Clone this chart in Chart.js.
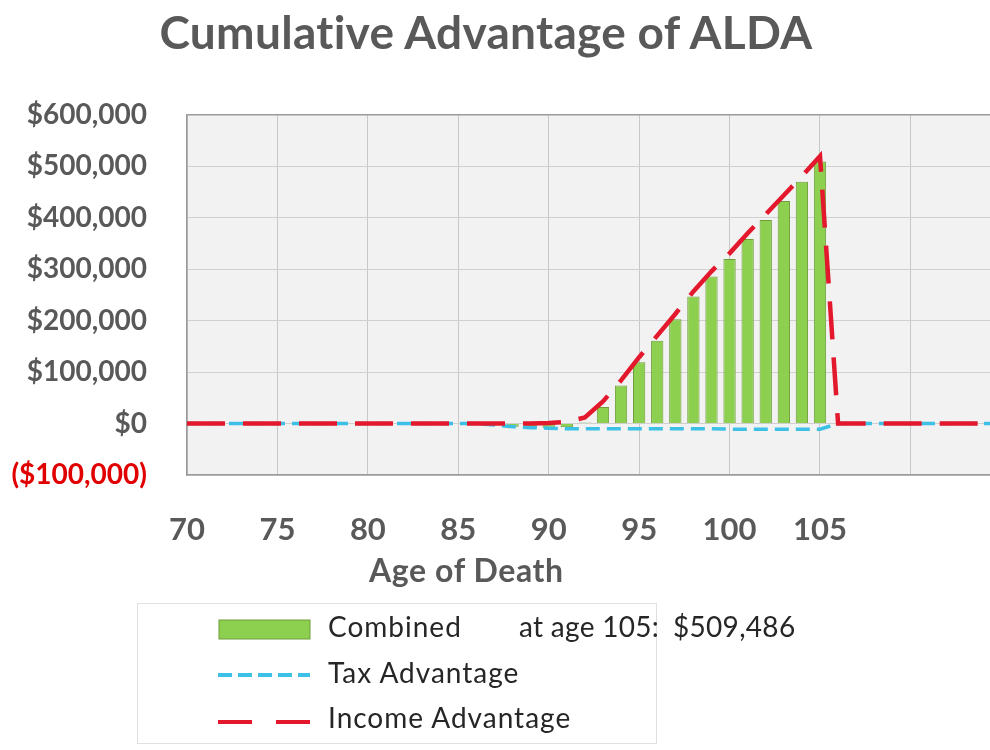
<!DOCTYPE html>
<html>
<head>
<meta charset="utf-8">
<script src="https://cdn.jsdelivr.net/npm/chart.js@4.4.1/dist/chart.umd.min.js"></script>
<style>
  html, body { margin: 0; padding: 0; background: #fff; overflow: hidden; }
  #wrap { position: relative; width: 990px; height: 750px; font-family: Lato, "Open Sans", sans-serif; }
  #chartBox { position: absolute; left: 0; top: 0; width: 990px; height: 750px; }
  #title { position: absolute; left: 0; width: 972px; top: 4px; text-align: center;
           font-size: 46px; font-weight: bold; color: #595959; letter-spacing: 0.3px; }
  #xTitle { position: absolute; left: 369px; top: 550px; font-size: 32px; font-weight: bold; color: #595959; letter-spacing: 0.6px; }
  #legend { position: absolute; left: 137px; top: 603px; width: 520px; height: 141px;
            border: 1px solid #e0e0e0; box-sizing: border-box; }
  .item { position: absolute; left: 190px; font-size: 28px; color: #262626; white-space: nowrap; letter-spacing: 1px; }
  .swatch { position: absolute; left: 80px; }
</style>
</head>
<body>
<div id="wrap">
  <div id="chartBox"><canvas id="advChart"></canvas></div>
  <div id="title">Cumulative Advantage of ALDA</div>
  <div id="xTitle">Age of Death</div>
  <div id="legend">
    <svg class="swatch" style="top:15px" width="94" height="22"><rect x="1" y="1" width="91" height="19" fill="#8dcf4f" stroke="#6f9e3a"/></svg>
    <div class="item" style="top:5px">Combined</div>
    <div class="item" style="top:5px;left:381px;letter-spacing:0.3px">at age 105:</div>
    <div class="item" style="top:5px;left:535px;letter-spacing:0.3px">$509,486</div>
    <svg class="swatch" style="top:66px" width="94" height="10"><line x1="0" y1="5" x2="92" y2="5" stroke="#3cc0e6" stroke-width="4" stroke-dasharray="14 6"/></svg>
    <div class="item" style="top:51px">Tax Advantage</div>
    <svg class="swatch" style="top:113px" width="94" height="10"><line x1="0" y1="5" x2="92" y2="5" stroke="#e3182d" stroke-width="4" stroke-dasharray="34 24"/></svg>
    <div class="item" style="top:96px">Income Advantage</div>
  </div>
</div>
<script>
const ages = [70, 71, 72, 73, 74, 75, 76, 77, 78, 79, 80, 81, 82, 83, 84, 85, 86, 87, 88, 89, 90, 91, 92,
  93, 94, 95, 96, 97, 98, 99, 100, 101, 102, 103, 104, 105, 106, 107, 108, 109, 110, 111, 112, 113, 114, 115];
const combined = [null, null, null, null, null, null, null, null, null, null, null, null, null, null, null, null, null,
  -3000, -6000, -8000, -8000, -7000, 2000,
  32000, 74000, 119000, 161000, 203000, 247000, 286000, 320000, 359000, 396000, 433000, 470000, 509486,
  null, null, null, null, null, null, null, null, null, null];
const taxAdvantage = [0, 0, 0, 0, 0, 0, 0, 0, 0, 0, 0, 0, 0, 0, 0, 0, 0,
  -3000, -6000, -8000, -9000, -10000, -10000,
  -10000, -10000, -10000, -10000, -10000, -10000, -10000, -11000, -11000, -11000, -11000, -11000, -11000,
  0, 0, 0, 0, 0, 0, 0, 0, 0, 0];
const incomeAdvantage = [0, 0, 0, 0, 0, 0, 0, 0, 0, 0, 0, 0, 0, 0, 0, 0, 0,
  0, 0, 0, 1000, 3000, 12000,
  43000, 84000, 129000, 171000, 213000, 257000, 296000, 331000, 370000, 407000, 444000, 481000, 520000,
  0, 0, 0, 0, 0, 0, 0, 0, 0, 0];
const yTicks = [-100000, 0, 100000, 200000, 300000, 400000, 500000, 600000];
const xTickLabels = [70, 75, 80, 85, 90, 95, 100, 105];

const toPoints = (arr) => ages.map((a, i) => ({ x: a, y: arr[i] }));

const plotBackground = {
  id: "plotBackground",
  beforeDraw(chart) {
    const { ctx, chartArea: a } = chart;
    ctx.save();
    ctx.fillStyle = "#f2f2f2";
    ctx.fillRect(a.left, a.top, a.right - a.left, a.bottom - a.top);
    ctx.restore();
  }
};

const money = (v) => {
  const s = "$" + Math.abs(v).toLocaleString("en-US");
  return v < 0 ? "(" + s + ")" : s;
};

new Chart(document.getElementById("advChart"), {
  type: "bar",
  data: {
    datasets: [
      {
        type: "line",
        label: "Income Advantage",
        data: toPoints(incomeAdvantage),
        borderColor: "#e3182d",
        borderWidth: 4.5,
        borderDash: [38, 18],
        pointRadius: 0,
        tension: 0,
        order: 0
      },
      {
        type: "line",
        label: "Tax Advantage",
        data: toPoints(taxAdvantage),
        borderColor: "#3cc0e6",
        borderWidth: 3.5,
        borderDash: [14, 7],
        pointRadius: 0,
        tension: 0,
        order: 1
      },
      {
        label: "Combined",
        data: toPoints(combined),
        backgroundColor: "#8dcf4f",
        borderColor: "#6f9e3a",
        borderWidth: 1,
        barPercentage: 0.68,
        categoryPercentage: 1,
        order: 2
      }
    ]
  },
  options: {
    responsive: true,
    maintainAspectRatio: false,
    animation: false,
    layout: { padding: { top: 115, right: 0, bottom: 0, left: 0 } },
    plugins: { legend: { display: false }, tooltip: { enabled: false } },
    scales: {
      x: {
        type: "linear",
        min: 70,
        max: 114.4,
        offset: false,
        grid: { offset: false, color: "#c8c8c8", drawTicks: false },
        border: { color: "#9a9a9a", width: 1.5 },
        afterFit: (scale) => { scale.height = 275; },
        ticks: {
          stepSize: 5,
          includeBounds: false,
          padding: 36,
          color: "#595959",
          font: { family: "Lato", size: 31, weight: "bold" },
          maxRotation: 0,
          callback: (v) => (xTickLabels.includes(v) ? String(v) : "")
        }
      },
      y: {
        min: -100000,
        max: 600000,
        grid: {
          drawTicks: false,
          color: (c) => (c.tick && c.tick.value === 600000 ? "#9a9a9a" : "#d0d0d0"),
          lineWidth: (c) => (c.tick && c.tick.value === 600000 ? 1.5 : 1)
        },
        border: { color: "#9a9a9a", width: 1.5 },
        afterBuildTicks: (scale) => { scale.ticks = yTicks.map((v) => ({ value: v })); },
        afterFit: (scale) => { scale.width = 187; },
        ticks: {
          padding: 40,
          color: (c) => (c.tick.value < 0 ? "#e00000" : "#595959"),
          font: { family: "Lato", size: 28, weight: "bold" },
          callback: (v) => money(v)
        }
      }
    }
  },
  plugins: [plotBackground]
});
</script>
</body>
</html>
